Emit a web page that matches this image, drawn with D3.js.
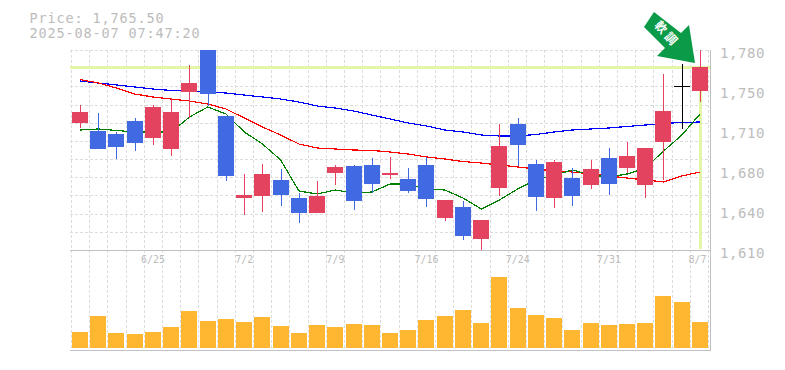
<!DOCTYPE html>
<html>
<head>
<meta charset="utf-8">
<script src="https://cdn.jsdelivr.net/npm/d3@7"></script>
<style>
  body { margin: 0; background: #fff; }
  text { font-family: "DejaVu Sans Mono", monospace; fill: #bcbcbc; opacity: 0.99; }
</style>
</head>
<body>
<svg id="chart" width="785" height="370"></svg>
<script>
const dates = ["6/19","6/20","6/23","6/24","6/25","6/26","6/27","6/30","7/1","7/2","7/3","7/4","7/7","7/8","7/9","7/10","7/11","7/14","7/15","7/16","7/17","7/18","7/22","7/23","7/24","7/25","7/28","7/29","7/30","7/31","8/1","8/4","8/5","8/6","8/7"];

const opens = [1718,1711.15,1708.6,1719.65,1705.2,1695.85,1744.3,1780,1723.9,1654.2,1655.9,1669.5,1654.2,1641.45,1675.45,1681.4,1682.25,1673.75,1670.35,1682.25,1637.2,1646.55,1619.35,1662.7,1717.1,1683.1,1654.2,1671.2,1665.25,1688.2,1679.7,1665.25,1701.8,1749.4,1745.15];
const closes = [1727.3,1695.85,1697.55,1700.95,1731.55,1727.3,1751.95,1742.6,1672.9,1656.75,1674.6,1656.75,1641.45,1655.9,1680.55,1651.65,1666.1,1675.45,1660.15,1653.35,1652.5,1621.9,1635.5,1698.4,1699.25,1655.05,1684.8,1655.9,1678.85,1666.1,1689.9,1696.7,1728.15,1749.4,1765.5];
const highs = [1733.25,1726.45,1710.3,1722.2,1733.25,1739.2,1767.25,1780,1723.9,1674.6,1683.1,1678.85,1658.45,1668.65,1682.25,1682.25,1688.2,1689.05,1679.7,1689.05,1652.5,1651.65,1635.5,1717.1,1722.2,1686.5,1686.5,1679.7,1686.5,1696.7,1701.8,1696.7,1759.6,1768.1,1780];
const lows = [1713.7,1695.85,1687.35,1694.15,1699.25,1689.9,1722.2,1732.4,1668.65,1639.75,1642.3,1647.4,1632.95,1641.45,1665.25,1644,1658.45,1670.35,1658.45,1646.55,1634.65,1618.5,1610,1655.9,1681.4,1643.15,1645.7,1647.4,1661.85,1656.75,1675.45,1654.2,1669.5,1712.85,1735.8];

const maShort = [1712,1712.85,1711.6,1710.3,1710.3,1710.3,1723.05,1731.55,1725.6,1710.3,1700.1,1686.5,1660.15,1657.6,1661,1658.45,1659.3,1666.1,1666.1,1661.85,1661,1654.2,1644.85,1652.5,1661.85,1669.5,1673.75,1678,1673.75,1672.05,1674.6,1679.7,1694.15,1707.75,1725.6];
const maMid = [1754.9,1751.95,1747.7,1742.6,1740.05,1738.35,1736.65,1734.1,1729.85,1722.2,1714.55,1707.75,1700.1,1696.7,1695.85,1695,1694.6,1693.3,1691.6,1689.05,1687.35,1685.2,1683.95,1682.25,1680.55,1678.85,1677.15,1676.3,1674.6,1672.9,1671.2,1669.5,1667.8,1672.9,1676.3];
const maLong = [1753.65,1751.95,1750.25,1748.55,1746.85,1745.6,1745.15,1744.3,1743.45,1741.75,1740.05,1738.35,1735.8,1732.4,1730.7,1728.15,1724.75,1721.35,1717.95,1715.4,1712,1710.3,1707.75,1706.9,1706.9,1708.2,1710.3,1712,1712.85,1713.7,1715,1716.25,1717.5,1718.4,1718.8];

// relative volume, no axis on the picture
const volumes = [16,32,15,14,16,21,37,27,29,26,31,22,15,23,21,24,23,15,18,28,32,38,25,71,40,33,30,18,25,23,24,25,52,46,26];

const priceTicks = [1780,1746,1712,1678,1644,1610];
const priceLabels = ["1,780","1,750","1,710","1,680","1,640","1,610"];
const dateTicks = ["6/25","7/2","7/9","7/16","7/24","7/31","8/7"];

const lastPrice = 1765.5;
const titleLines = ["Price: 1,765.50","2025-08-07 07:47:20"];
const badgeText = "軟調";

const RED = "#e3435f", BLUE = "#4169e1", ORANGE = "#ffb732", GRID = "#dcdcdc", FRAME = "#c0c0c0";
const plotLeft = 70, plotRight = 710, plotTop = 50, plotMid = 250, plotBottom = 350, barW = 16;

const svg = d3.select("#chart");

const x = d3.scaleBand().domain(dates).range([71, 709.2]);
const barX = d => Math.round(x(d) + 1);
const midX = d => x(d) + x.bandwidth() / 2;
const y = d3.scaleLinear().domain([1610, 1780]).range([plotMid, plotTop]);
const v = d3.scaleLinear().domain([0, 100]).range([348, 248]);

// dashed grid
const gridX = d3.scaleLinear().domain([0, dates.length]).range([71, 708]);
const gridY = d3.scaleLinear().domain([0, 11]).range([plotTop, plotMid]);

const grid = svg.append("g")
  .attr("stroke", GRID)
  .attr("stroke-dasharray", "3,2")
  .attr("shape-rendering", "crispEdges");

grid.selectAll(".gx")
  .data(d3.range(dates.length + 1))
  .enter()
  .append("line")
  .attr("x1", d => Math.round(gridX(d)) + 0.5)
  .attr("x2", d => Math.round(gridX(d)) + 0.5)
  .attr("y1", plotTop)
  .attr("y2", plotBottom);

grid.selectAll(".gy")
  .data(d3.range(12))
  .enter()
  .append("line")
  .attr("x1", plotLeft)
  .attr("x2", plotRight)
  .attr("y1", d => Math.round(gridY(d)) + 0.5)
  .attr("y2", d => Math.round(gridY(d)) + 0.5);

// current price marker
svg.append("rect")
  .attr("x", plotLeft).attr("width", plotRight - plotLeft)
  .attr("y", Math.round(y(lastPrice)) - 1).attr("height", 3)
  .attr("fill", "#e4f5a6");
svg.append("rect")
  .attr("x", 699).attr("width", 3)
  .attr("y", Math.round(y(lastPrice)) - 1)
  .attr("height", plotMid - y(lastPrice))
  .attr("fill", "#e4f5a6");

// moving averages
const line = d3.line().x((d, i) => midX(dates[i])).y(d => y(d));
[[maLong, "#0000ff"], [maMid, "#ff0000"], [maShort, "#008000"]].forEach(([s, c]) => {
  svg.append("path")
    .attr("d", line(s))
    .attr("fill", "none")
    .attr("stroke", c)
    .attr("stroke-width", 1.2)
    .attr("shape-rendering", "crispEdges");
});

// volume
svg.selectAll(".vol")
  .data(volumes)
  .enter()
  .append("rect")
  .attr("x", (d, i) => barX(dates[i]))
  .attr("width", barW)
  .attr("y", d => Math.round(v(d)))
  .attr("height", d => 348 - Math.round(v(d)))
  .attr("fill", ORANGE);

// candles
const candleColor = i => closes[i] > opens[i] ? RED : closes[i] < opens[i] ? BLUE : "#000";
const candles = svg.append("g").attr("shape-rendering", "crispEdges");

candles.selectAll(".wick")
  .data(dates)
  .enter()
  .append("rect")
  .attr("x", d => barX(d) + 8)
  .attr("width", 1)
  .attr("y", (d, i) => Math.round(y(highs[i])))
  .attr("height", (d, i) => Math.round(y(lows[i])) - Math.round(y(highs[i])))
  .attr("fill", (d, i) => candleColor(i));

candles.selectAll(".body")
  .data(dates)
  .enter()
  .append("rect")
  .attr("x", d => barX(d))
  .attr("width", barW)
  .attr("y", (d, i) => Math.round(y(Math.max(opens[i], closes[i]))))
  .attr("height", (d, i) => Math.max(1, Math.round(y(Math.min(opens[i], closes[i]))) - Math.round(y(Math.max(opens[i], closes[i])))))
  .attr("fill", (d, i) => candleColor(i));

// frame
svg.append("g")
  .attr("stroke", FRAME)
  .attr("shape-rendering", "crispEdges")
  .call(g => {
    g.append("line").attr("x1", plotLeft).attr("x2", plotRight).attr("y1", plotMid + 0.5).attr("y2", plotMid + 0.5);
    g.append("line").attr("x1", plotLeft).attr("x2", plotRight + 1).attr("y1", plotBottom + 0.5).attr("y2", plotBottom + 0.5);
    g.append("line").attr("x1", plotRight + 0.5).attr("x2", plotRight + 0.5).attr("y1", plotTop).attr("y2", plotBottom);
  });

// axes
const yAxis = d3.axisRight(y)
  .tickValues(priceTicks)
  .tickFormat((d, i) => priceLabels[i])
  .tickSize(0)
  .tickPadding(10);

svg.append("g")
  .attr("transform", `translate(${plotRight},3.5)`)
  .call(yAxis)
  .call(g => g.select(".domain").remove())
  .selectAll("text")
  .style("font-family", '"DejaVu Sans Mono", monospace')
  .style("font-size", "14px")
  .style("letter-spacing", "0.6px")
  .style("fill", "#bcbcbc");

const xAxis = d3.axisBottom(x)
  .tickValues(dateTicks)
  .tickSize(0)
  .tickPadding(6);

svg.append("g")
  .attr("transform", `translate(0,${plotMid})`)
  .call(xAxis)
  .call(g => g.select(".domain").remove())
  .selectAll("text")
  .style("font-family", '"DejaVu Sans Mono", monospace')
  .style("font-size", "10px")
  .style("fill", "#bcbcbc")
  .attr("dx", d => d == "8/7" ? -2.5 : 0);

// price header
svg.selectAll(".title")
  .data(titleLines)
  .enter()
  .append("text")
  .attr("x", 29.5)
  .attr("y", (d, i) => 22.5 + i * 15.5)
  .style("font-size", "13.5px")
  .style("letter-spacing", "0.87px")
  .text(d => d);

// arrow badge
svg.append("polygon")
  .attr("points", "654,12 644,27 665,48 657,56 695,63 689,25 681,33")
  .attr("fill", "#0a9a48");
svg.append("text")
  .attr("transform", "translate(667,34) rotate(48)")
  .attr("text-anchor", "middle")
  .attr("dy", "0.36em")
  .style("font-family", '"Noto Sans CJK JP"')
  .style("font-size", "12px")
  .style("font-weight", "bold")
  .style("letter-spacing", "3px")
  .style("fill", "#fff")
  .text(badgeText);
</script>
</body>
</html>
